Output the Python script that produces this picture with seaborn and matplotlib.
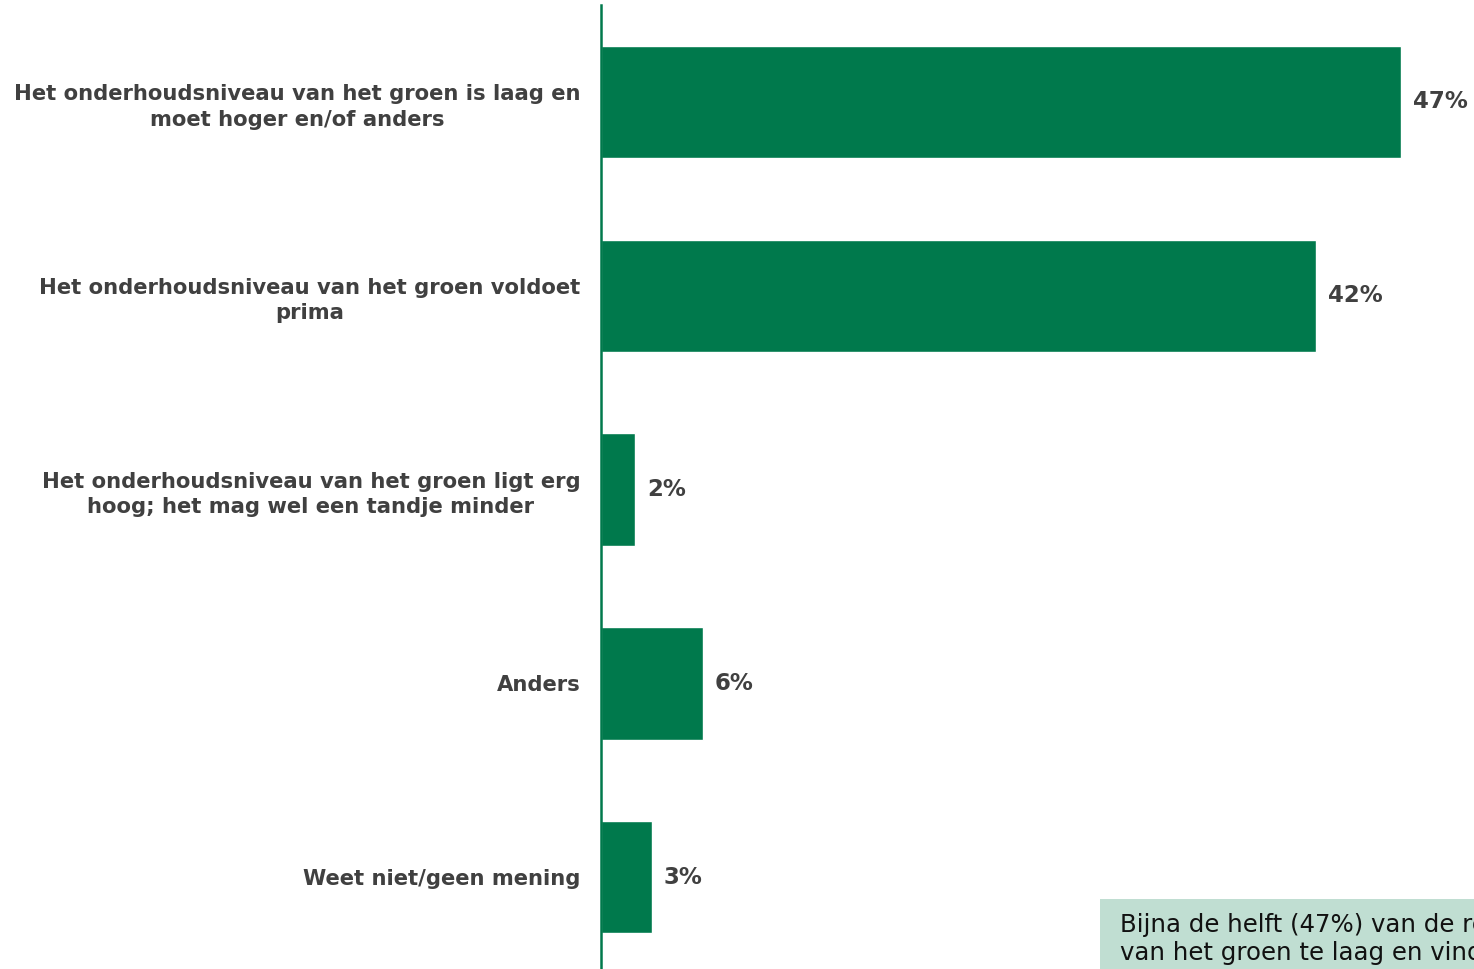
import matplotlib
matplotlib.use("Agg")
import matplotlib.pyplot as plt
import seaborn as sns
import pandas as pd
from matplotlib.patches import Rectangle

categories = [
    "Het onderhoudsniveau van het groen is laag en\nmoet hoger en/of anders",
    "Het onderhoudsniveau van het groen voldoet\nprima",
    "Het onderhoudsniveau van het groen ligt erg\nhoog; het mag wel een tandje minder",
    "Anders",
    "Weet niet/geen mening",
]
values = [47, 42, 2, 6, 3]
value_labels = ["47%", "42%", "2%", "6%", "3%"]

GREEN = "#00794C"
TEXT = "#404040"

sns.set_theme(style="white")
plt.rcParams["font.family"] = ["DejaVu Sans"]

W, H = 1474, 969
fig = plt.figure(figsize=(W / 100, H / 100), dpi=100)
ax_left = 601 / W
ax = fig.add_axes([ax_left, 0.0, 1 - ax_left, (969 - 5) / H])

df = pd.DataFrame({"cat": categories, "val": values})
sns.barplot(data=df, y="cat", x="val", orient="h", color=GREEN, saturation=1,
            width=0.58, ax=ax)

xmax = (W - 601) / 17.02
ax.set_xlim(0, xmax)
ax.set_ylim(4.474, -0.5)

for s in ["top", "right", "bottom"]:
    ax.spines[s].set_visible(False)
ax.spines["left"].set_color(GREEN)
ax.spines["left"].set_linewidth(1.8)
ax.set_xticks([])
ax.set_xlabel("")
ax.set_ylabel("")
ax.tick_params(axis="y", length=0, pad=15)
for lbl in ax.get_yticklabels():
    lbl.set_fontweight("bold")
    lbl.set_fontsize(15.2)
    lbl.set_color(TEXT)
    lbl.set_horizontalalignment("right")
    lbl.set_multialignment("center")
    lbl.set_linespacing(1.35)

for i, (v, t) in enumerate(zip(values, value_labels)):
    ax.text(v + 0.7, i, t, va="center", ha="left", fontsize=16.5,
            fontweight="bold", color=TEXT)

# annotation box at bottom right
fig.patches.append(Rectangle((1100 / W, 0), (W - 1100) / W, 70 / H,
                             transform=fig.transFigure, facecolor="#C0DED2",
                             edgecolor="none", zorder=5))
fig.text(1120 / W, 30 / H,
         "Bijna de helft (47%) van de respondenten vindt het onderhoudsniveau\n"
         "van het groen te laag en vindt dat het hoger en/of anders moet",
         fontsize=17.6, color="#111111", va="center", ha="left",
         linespacing=1.2, zorder=6)

fig.savefig("out.png", dpi=100)
